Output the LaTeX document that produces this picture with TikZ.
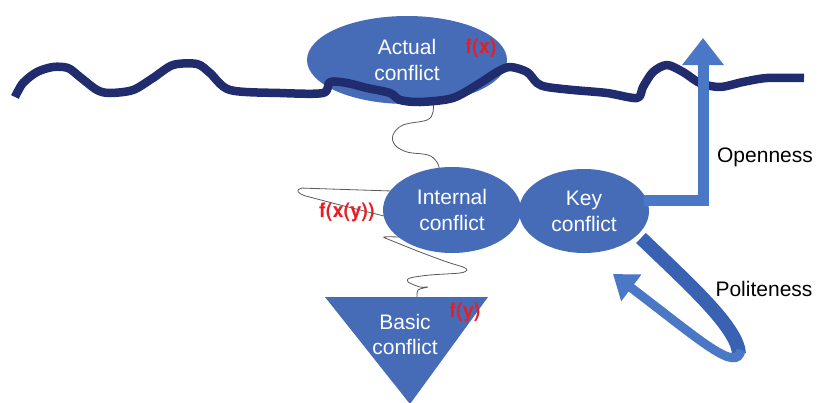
\documentclass[tikz,border=0pt]{standalone}
\usepackage{fontspec}
\setmainfont{Liberation Sans}
\newfontfamily\heavysans{TeX Gyre Heros}
\usetikzlibrary{shapes.geometric,arrows.meta}
\definecolor{blobblue}{RGB}{70,108,184}
\definecolor{navy}{RGB}{32,44,110}
\definecolor{arrowblue}{RGB}{74,120,198}
\definecolor{polblue}{RGB}{58,98,178}
\definecolor{fred}{RGB}{232,30,36}
\tikzset{
  blob/.style={ellipse, fill=blobblue, draw=none, inner sep=0pt, text=white,
    align=center, font=\fontsize{21}{26}\selectfont},
  flabel/.style={text=fred, font=\heavysans\bfseries\fontsize{20}{22}\selectfont, inner sep=0pt},
  sidelabel/.style={text=black, font=\fontsize{21}{24}\selectfont, inner sep=0pt},
  spring/.style={draw=black!65, line width=0.8pt, line join=round},
  horizon/.style={draw=navy, line width=8.5pt, line join=round},
  flow/.style={draw=arrowblue, line width=11pt},
}
\begin{document}
\begin{tikzpicture}[x=1pt,y=-1pt]
\useasboundingbox (0,0) rectangle (820,402);

% springs between the levels (drawn first, behind the shapes)
\draw[spring] plot[smooth, tension=0.6] coordinates {(433,100) (433,112) (427,120) (403,125) (393,135) (395,145) (407,152) (428,155) (437,162) (440,172)};
\draw[spring, rounded corners=2pt] (392,191) -- (330,189) -- (300,188) -- (297,191) -- (302,195) -- (340,205) -- (388,217);
\draw[spring] plot[smooth, tension=0.5] coordinates {(400,237) (384,237) (390,240) (420,252) (447,262) (463,267) (467,270) (460,273) (430,275) (410,278) (408,282) (420,287) (428,287) (418,290) (417,299)};

% shapes
\node[blob, minimum width=200pt, minimum height=88pt] (actual) at (407,60) {Actual\\conflict};
\node[blob, minimum width=138pt, minimum height=86pt] (internal) at (452,210) {Internal\\conflict};
\node[blob, minimum width=130pt, minimum height=84pt] (key) at (584,211) {Key\\conflict};
\fill[blobblue] (325,297) -- (488,297) -- (410,404) -- cycle;
\node[text=white, align=center, font=\fontsize{21}{25}\selectfont, inner sep=0pt] (basic) at (405,334) {Basic\\conflict};

% the wavy horizon line
\draw[horizon] plot[smooth, tension=0.5] coordinates {(15,97) (23,83) (37,72) (53,67) (68,68) (80,77) (97,90) (110,93) (133,90) (153,78) (173,65) (197,64) (210,73) (230,90) (280,93) (323,93) (330,82) (347,83) (367,88) (390,93) (400,100) (420,102) (453,98) (480,83) (497,72) (510,67) (527,72) (537,83) (547,87) (573,90) (607,93) (637,98) (643,87) (653,72) (667,65) (683,72) (700,83) (720,87) (743,82) (767,78) (804,78)};

% openness arrow
\coordinate (otop) at (703,38);
\draw[flow, -{Triangle[width=40pt,length=27pt]}] (644,200) -| (otop);

% politeness loop
\coordinate (ploop) at (739,354);
\coordinate (ptip) at (613,274);
\draw[draw=polblue, line width=14pt] (641,238) .. controls (690,285) and (738,328) .. (ploop);
\draw[draw=arrowblue, line width=9pt, -{Triangle[width=32pt,length=23pt]}] (741,350) .. controls (737,374) and (700,340) .. (ptip);

% labels
\node[flabel] (fx) at (481,48) {f(x)};
\node[flabel] (fxy) at (347,212) {f(x(y))};
\node[flabel] (fy) at (465,312) {f(y)};
\node[sidelabel] (open) at (765,157) {Openness};
\node[sidelabel] (polite) at (764,289) {Politeness};
\end{tikzpicture}
\end{document}
